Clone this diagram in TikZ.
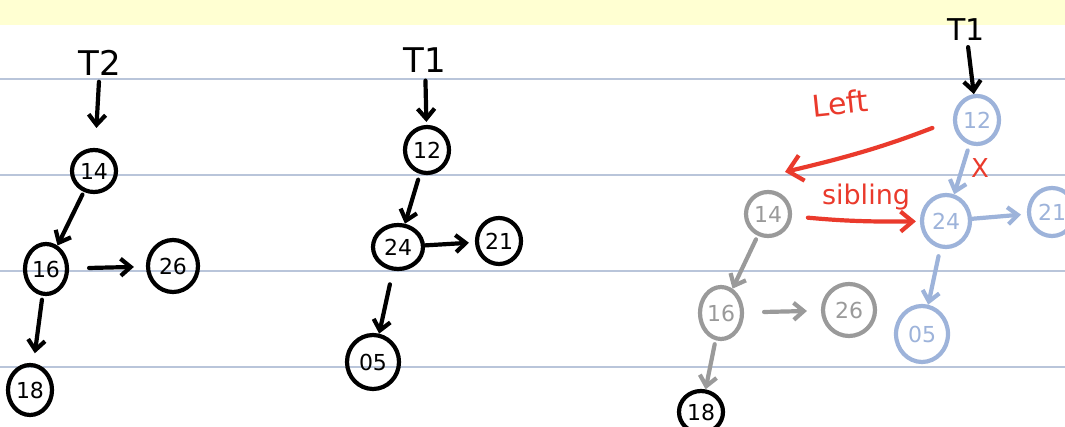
\documentclass[tikz,border=0pt]{standalone}
\usepackage{fontspec}
\setmainfont{DejaVu Sans}
\usetikzlibrary{arrows.meta,shapes.geometric,calc}
\definecolor{paperyellow}{HTML}{FFFFD2}
\definecolor{ruleblue}{HTML}{B9C5DA}
\definecolor{inkgray}{HTML}{9A9A9A}
\definecolor{inkblue}{HTML}{9DB3DA}
\definecolor{inkred}{HTML}{EA3A2C}
\tikzset{
  ink/.style={line width=4.2pt, line cap=round, line join=round},
  tnode/.style={ink, draw, ellipse, inner sep=0pt, font=\fontsize{22}{22}\selectfont},
  link/.style={ink, -{Straight Barb[length=10pt,width=17pt]}},
  lbl/.style={font=\fontsize{34}{34}\selectfont, inner sep=0pt},
  redlbl/.style={text=inkred, font=\fontsize{30}{30}\selectfont, inner sep=0pt},
}
\begin{document}
\begin{tikzpicture}[x=1pt,y=-1pt]
% page: yellow header band and ruled lines
\fill[white] (0,0) rectangle (1065,427);
\useasboundingbox (0,0) rectangle (1065,427);
\fill[paperyellow] (0,0) rectangle (1065,25);
\foreach \yy in {79,175,271,367}
  \draw[ruleblue, line width=1.8pt] (0,\yy) -- (1065,\yy);

% ---- tree T2 ----
\node[lbl] (t2) at (100,63) {T2};
\node[tnode, minimum width=44pt, minimum height=42pt] (a14) at (94,171) {14};
\node[tnode, minimum width=42pt, minimum height=50pt] (a16) at (46,269) {16};
\node[tnode, minimum width=50pt, minimum height=52pt] (a26) at (173,266) {26};
\node[tnode, minimum width=44pt, minimum height=50pt] (a18) at (30,390) {18};
\draw[link, shorten <=6pt, shorten >=20pt] (t2) -- (a14);
\draw[link, shorten <=3pt] (a14) -- (a16);
\draw[link, shorten <=20pt, shorten >=12pt] (a16) -- (a26);
\draw[link, shorten <=4pt, shorten >=10pt] (a16) -- (a18);

% ---- tree T1 ----
\node[lbl] (t1) at (425,60) {T1};
\node[tnode, minimum width=44pt, minimum height=46pt] (b12) at (427,150) {12};
\node[tnode, minimum width=50pt, minimum height=44pt] (b24) at (398,247) {24};
\node[tnode, minimum width=44pt, minimum height=46pt] (b21) at (499,241) {21};
\node[tnode, minimum width=52pt, minimum height=54pt] (b05) at (373,362) {05};
\draw[link, shorten <=8pt, shorten >=3pt] (t1) -- (b12);
\draw[link, shorten <=6pt] (b12) -- (b24);
\draw[link, shorten >=6pt] (b24) -- (b21);
\draw[link, shorten <=14pt] (b24) -- (b05);

% ---- merged picture ----
\node[lbl, font=\fontsize{30}{30}\selectfont] (t1r) at (966,30) {T1};
\node[tnode, inkblue, minimum width=44pt, minimum height=48pt] (c12) at (977,120) {12};
\node[tnode, inkblue, minimum width=48pt, minimum height=52pt] (c24) at (946,221) {24};
\node[tnode, inkblue, minimum width=46pt, minimum height=48pt] (c21) at (1052,212) {21};
\node[tnode, inkblue, minimum width=52pt, minimum height=56pt] (c05) at (922,334) {05};
\node[tnode, inkgray, minimum width=44pt, minimum height=44pt] (g14) at (768,214) {14};
\node[tnode, inkgray, minimum width=42pt, minimum height=52pt] (g16) at (721,313) {16};
\node[tnode, inkgray, minimum width=52pt, minimum height=52pt] (g26) at (849,310) {26};
\node[tnode, minimum width=44pt, minimum height=42pt] (g18) at (701,412) {18};

\draw[link, shorten <=6pt] (t1r) -- (c12);
\draw[link, inkblue, shorten <=6pt] (c12) -- (c24);
\draw[link, inkblue, shorten >=6pt] (c24) -- (c21);
\draw[link, inkblue, shorten <=8pt] (c24) -- (c05);
\draw[link, inkgray, shorten <=4pt] (g14) -- (g16);
\draw[link, inkgray, shorten <=20pt, shorten >=14pt] (g16) -- (g26);
\draw[link, inkgray, shorten <=4pt] (g16) -- (g18);

% red annotations
\coordinate (lefttip) at ($(g14.north)+(17,-18)$);
\draw[link, inkred, -{Straight Barb[length=14pt,width=26pt]}, shorten <=22pt]
  (c12.west) to[bend left=4] (lefttip);
\node[redlbl, rotate=6] (leftlbl) at (840,103) {Left};
\draw[link, inkred, -{Straight Barb[length=12pt,width=20pt]}, shorten <=16pt, shorten >=4pt]
  (g14) to[bend right=3] (c24);
\node[redlbl, font=\fontsize{27}{27}\selectfont] (siblbl) at (866,197) {sibling};
\node[redlbl, font=\fontsize{26}{26}\selectfont] (cross) at (980,168) {X};
\end{tikzpicture}
\end{document}
